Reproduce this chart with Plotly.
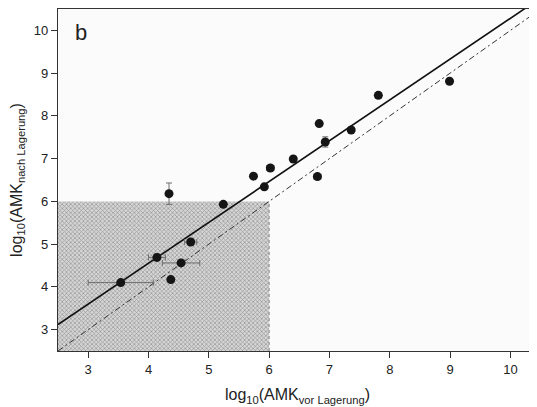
import plotly.graph_objects as go

# Data
x_vor = [3.54, 4.14, 4.54, 4.37, 4.70, 5.24, 4.34, 5.74, 5.92, 6.02, 6.40, 6.80, 6.83, 6.93, 7.36, 7.81, 8.99]
y_nach = [4.10, 4.69, 4.56, 4.17, 5.05, 5.93, 6.18, 6.59, 6.34, 6.78, 6.99, 6.58, 7.82, 7.39, 7.67, 8.48, 8.81]
x_err = [0.54, 0.14, 0.31, 0, 0.10, 0, 0, 0, 0, 0.06, 0, 0.06, 0, 0, 0, 0.05, 0]
y_err = [0, 0.08, 0, 0, 0.06, 0, 0.25, 0, 0, 0, 0, 0, 0, 0.12, 0, 0.06, 0]

reg_slope = 0.955
reg_intercept = 0.733

shade_limit = 6.0
x_range = [2.5, 10.44]
y_range = [2.5, 10.5]
tick_vals = [3, 4, 5, 6, 7, 8, 9, 10]

FONT = "Liberation Sans, Arial"
BODY_OFFSET = 8  # default page margin of the html body

fig = go.Figure()

# shaded region (x < 6 and y < 6)
fig.add_trace(go.Scatter(
    x=[x_range[0], shade_limit, shade_limit, x_range[0], x_range[0]],
    y=[y_range[0], y_range[0], shade_limit, shade_limit, y_range[0]],
    fill="toself", mode="lines", line=dict(width=0, color="rgba(0,0,0,0)"),
    fillcolor="#d0d0d0",
    fillpattern=dict(shape="x", size=3, solidity=0.4, fgcolor="#949494", bgcolor="#d6d6d6", fillmode="replace"),
    hoverinfo="skip", showlegend=False,
))
# dotted right edge of shaded area
fig.add_trace(go.Scatter(
    x=[shade_limit, shade_limit], y=[y_range[0], shade_limit],
    mode="lines", line=dict(color="#888888", width=1, dash="dot"),
    hoverinfo="skip", showlegend=False,
))

lx = [x_range[0], x_range[1] + 0.5]
# identity line (dash-dot)
fig.add_trace(go.Scatter(
    x=lx, y=lx, mode="lines",
    line=dict(color="#333333", width=1, dash="6px,3px,2px,3px"),
    showlegend=False, hoverinfo="skip",
))
# regression line
fig.add_trace(go.Scatter(
    x=lx, y=[reg_slope * v + reg_intercept for v in lx], mode="lines",
    line=dict(color="#111111", width=1.6),
    showlegend=False, hoverinfo="skip",
))

# points with error bars
fig.add_trace(go.Scatter(
    x=x_vor, y=y_nach, mode="markers",
    marker=dict(color="#151515", size=9),
    error_x=dict(type="data", array=x_err, color="#6e6e6e", thickness=1, width=3),
    error_y=dict(type="data", array=y_err, color="#6e6e6e", thickness=1, width=3),
    showlegend=False,
))

axis_common = dict(
    showgrid=False, zeroline=False, showline=True, linecolor="#333333", linewidth=1.2,
    mirror=True, ticks="outside", ticklen=6, tickwidth=1, tickcolor="#333333",
    tickvals=tick_vals, tickfont=dict(family=FONT, size=13, color="#222222"),
    automargin=False,
)

fig.update_layout(
    width=537 - BODY_OFFSET, height=407 - BODY_OFFSET,
    margin=dict(l=58 - BODY_OFFSET, r=0, t=9 - BODY_OFFSET, b=56),
    paper_bgcolor="#ffffff", plot_bgcolor="#fbfbfb",
    xaxis=dict(range=x_range, title=dict(text="log<sub>10</sub>(AMK<sub>vor Lagerung</sub>)",
               font=dict(family=FONT, size=16, color="#222222"), standoff=13), **axis_common),
    yaxis=dict(range=y_range, title=dict(text="log<sub>10</sub>(AMK<sub>nach Lagerung</sub>)",
               font=dict(family=FONT, size=16, color="#222222"), standoff=8), **axis_common),
    annotations=[dict(text="b", x=0.031, y=0.93, xref="paper", yref="paper", xanchor="left", yanchor="middle",
                      showarrow=False, font=dict(family=FONT, size=22, color="#222222"))],
)

fig.write_html("out.html")
